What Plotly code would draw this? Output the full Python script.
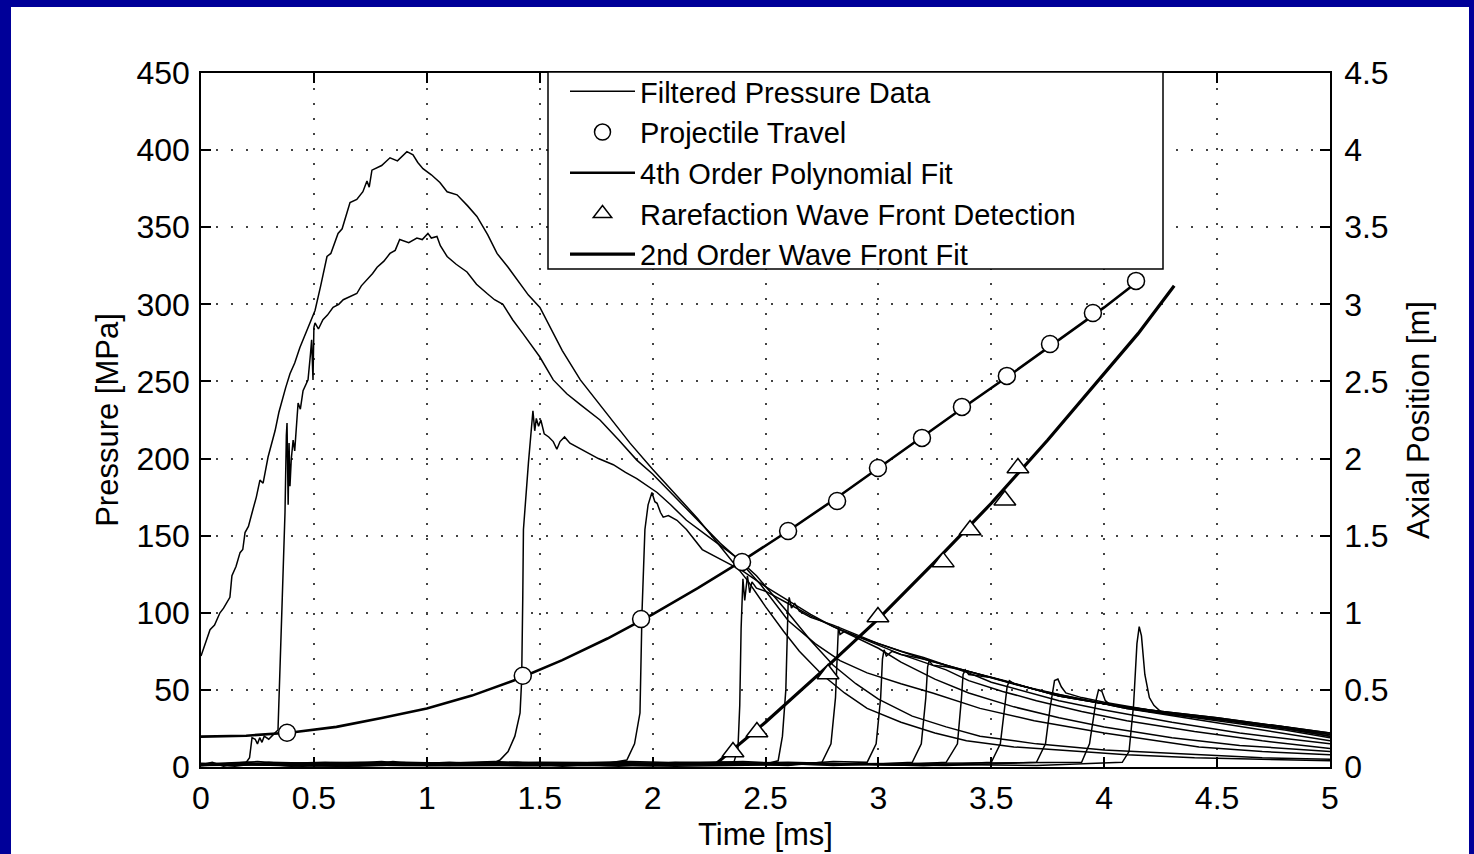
import plotly.graph_objects as go

# ---------------- data ----------------
# Filtered pressure traces [time ms], [pressure MPa]
a_t = [0, 0.02, 0.04, 0.06, 0.084, 0.10, 0.128, 0.137, 0.155, 0.173, 0.185, 0.195, 0.21, 0.23, 0.245, 0.261, 0.275, 0.297, 0.31, 0.328, 0.345, 0.359, 0.375, 0.394, 0.415, 0.438, 0.47, 0.505, 0.53, 0.558, 0.575, 0.607, 0.625, 0.66, 0.69, 0.717, 0.735, 0.745, 0.757, 0.8, 0.837, 0.87, 0.912, 0.939, 0.96, 0.983, 1.02, 1.058, 1.09, 1.134, 1.18, 1.222, 1.27, 1.311, 1.36, 1.4, 1.45, 1.501, 1.55, 1.6, 1.68, 1.75, 1.82, 1.9, 2.0, 2.1, 2.2, 2.3, 2.356, 2.42, 2.5, 2.58, 2.65, 2.75, 2.85, 2.95, 3.1, 3.25, 3.39, 3.6, 3.8, 4.1, 4.4, 4.7, 5.0]
a_p = [72, 80, 89, 92, 100, 103, 110, 124, 130, 139, 141, 152, 156, 167, 175, 186, 184, 201, 208, 218, 230, 238, 246, 255, 262, 272, 284, 296, 312, 331, 333, 346, 349, 366, 368, 373, 380, 376, 387, 390, 395, 393, 399, 397, 392, 388, 384, 379, 373, 371, 364, 357, 345, 333, 324, 316, 306, 298, 284, 270, 251, 238, 225, 210, 193, 177, 161, 143, 133, 121, 104, 88, 75, 60, 48, 38, 29, 22, 17, 13, 11, 8, 6, 5, 4]

b_t = [0, 0.05, 0.1, 0.15, 0.186, 0.2, 0.215, 0.226, 0.24, 0.25, 0.26, 0.27, 0.28, 0.30, 0.32, 0.341, 0.36, 0.372, 0.378, 0.381, 0.386, 0.39, 0.394, 0.40, 0.408, 0.415, 0.43, 0.44, 0.452, 0.474, 0.485, 0.49, 0.496, 0.50, 0.505, 0.52, 0.54, 0.56, 0.585, 0.61, 0.63, 0.66, 0.69, 0.71, 0.735, 0.76, 0.78, 0.81, 0.837, 0.86, 0.88, 0.92, 0.956, 0.98, 1.005, 1.02, 1.045, 1.06, 1.09, 1.13, 1.178, 1.22, 1.267, 1.3, 1.337, 1.38, 1.426, 1.46, 1.50, 1.56, 1.62, 1.68, 1.767, 1.85, 1.93, 2.0, 2.1, 2.2, 2.3, 2.4, 2.46, 2.53, 2.6, 2.7, 2.8, 2.9, 3.0, 3.15, 3.3, 3.45, 3.7, 4.0, 4.4, 4.7, 5.0]
b_p = [1.5, 3, 0.5, 2.5, 1.5, 3, 6, 19, 18, 15, 19, 16, 20, 18, 21, 24, 110, 165, 215, 223, 170, 210, 182, 200, 212, 205, 236, 232, 244, 251, 268, 277, 251, 285, 288, 284, 290, 293, 298, 300, 303, 305, 307, 312, 316, 320, 324, 328, 333, 335, 342, 340, 343, 342, 346, 343, 344, 338, 331, 326, 321, 313, 307, 303, 300, 290, 281, 274, 266, 251, 242, 235, 225, 212, 199, 190, 175, 160, 145, 132, 124, 112, 100, 82, 66, 54, 44, 33, 26, 20, 15, 11, 8, 6, 5]

c_t = [0, 0.15, 0.3, 0.5, 0.7, 0.85, 1.0, 1.15, 1.3, 1.324, 1.36, 1.39, 1.413, 1.42, 1.425, 1.428, 1.45, 1.462, 1.47, 1.478, 1.485, 1.495, 1.505, 1.52, 1.54, 1.56, 1.576, 1.59, 1.61, 1.634, 1.66, 1.71, 1.76, 1.826, 1.88, 1.93, 2.02, 2.08, 2.15, 2.25, 2.37, 2.48, 2.6, 2.72, 2.83, 2.95, 3.1, 3.24, 3.45, 3.69, 4.0, 4.42, 4.7, 5.0]
c_p = [2, 0.5, 3, 2.5, 0.8, 3.5, 1.5, 2.5, 3, 4.5, 10, 20, 35, 56, 110, 154, 197, 220, 231, 218, 226, 221, 225, 216, 214, 211, 206, 211, 214, 210, 208, 204, 200, 196, 191, 187, 178, 170, 160, 149, 136, 118, 95, 80, 69, 61, 54, 48, 38, 30, 22, 13, 10, 8]

d_t = [0, 0.2, 0.4, 0.6, 0.8, 1.0, 1.2, 1.4, 1.6, 1.8, 1.886, 1.92, 1.944, 1.953, 1.966, 1.98, 1.997, 2.01, 2.02, 2.035, 2.047, 2.07, 2.108, 2.15, 2.22, 2.31, 2.4, 2.5, 2.6, 2.7, 2.8, 2.9, 3.0, 3.1, 3.25, 3.4, 3.6, 3.8, 4.0, 4.3, 4.6, 5.0]
d_p = [1, 3, 0.5, 2, 3.5, 1, 1.5, 3, 0.5, 2.5, 4.5, 15, 35, 100, 154, 170, 178, 172, 171, 165, 162, 163, 160, 154, 141, 134, 127, 117, 108, 99, 91, 84, 77, 68, 57, 48, 39, 32, 26, 19, 14, 10]

e_t = [0, 0.25, 0.5, 0.8, 1.1, 1.35, 1.6, 1.85, 2.1, 2.36, 2.378, 2.386, 2.392, 2.40, 2.408, 2.415, 2.42, 2.43, 2.44, 2.46, 2.5, 2.6, 2.7, 2.8, 2.9, 3.0, 3.1, 3.2, 3.3, 3.4, 3.55, 3.7, 3.9, 4.1, 4.4, 4.7, 5.0]
e_p = [2, 3.5, 0.8, 1, 3, 1.5, 2.5, 0.5, 3, 3, 12, 40, 90, 122, 108, 118, 124, 113, 120, 116, 114, 106, 98, 91, 85, 79, 73, 68, 63, 56, 49, 43, 36, 30, 23, 17, 12]

f_t = [0, 0.3, 0.65, 1.0, 1.3, 1.7, 2.0, 2.3, 2.5, 2.556, 2.575, 2.59, 2.597, 2.60, 2.605, 2.615, 2.63, 2.65, 2.7, 2.8, 2.9, 3.0, 3.1, 3.2, 3.3, 3.4, 3.5, 3.65, 3.8, 4.0, 4.3, 4.6, 5.0]
f_p = [1, 2.5, 0.5, 2, 3.5, 1.5, 1, 3, 2, 4, 20, 50, 90, 105, 110, 103, 106, 101, 97, 92, 86, 80, 75, 70, 66, 61, 55, 49, 43, 37, 29, 22, 15]

g_t = [0, 0.45, 0.9, 1.4, 1.9, 2.4, 2.6, 2.75, 2.79, 2.81, 2.818, 2.823, 2.83, 2.85, 2.9, 3.0, 3.1, 3.2, 3.3, 3.4, 3.56, 3.7, 3.9, 4.1, 4.4, 4.7, 5.0]
g_p = [2.5, 0.5, 3, 1.5, 3.5, 2, 1, 3, 15, 45, 80, 91, 86, 88, 85, 80, 75, 71, 66, 62, 56, 50, 44, 38, 31, 24, 17]

h_t = [0, 0.55, 1.05, 1.5, 2.1, 2.6, 2.8, 2.95, 2.99, 3.01, 3.018, 3.025, 3.035, 3.06, 3.1, 3.2, 3.3, 3.4, 3.5, 3.62, 3.8, 4.0, 4.2, 4.5, 4.8, 5.0]
h_p = [1, 3, 1.5, 2, 0.5, 1.5, 3.5, 3, 15, 45, 70, 76, 72, 75, 73, 70, 66, 62, 58, 53, 47, 41, 36, 30, 24, 19]

i_t = [0, 0.6, 1.2, 1.8, 2.4, 2.8, 3.0, 3.15, 3.19, 3.21, 3.218, 3.225, 3.24, 3.3, 3.4, 3.5, 3.6, 3.7, 3.8, 4.0, 4.2, 4.5, 4.8, 5.0]
i_p = [2, 0.5, 2.5, 1, 3.5, 1, 2, 3, 15, 45, 65, 69, 66, 65, 62, 58, 54, 50, 46, 41, 36, 31, 25, 20]

j_t = [0, 0.7, 1.4, 2.0, 2.7, 3.1, 3.3, 3.35, 3.368, 3.375, 3.385, 3.4, 3.5, 3.6, 3.7, 3.8, 4.0, 4.2, 4.5, 4.8, 5.0]
j_p = [1.5, 3, 0.8, 1, 2.5, 1.5, 3, 15, 45, 60, 63, 60, 58, 54, 50, 46, 41, 37, 31, 26, 21]

k_t = [0, 0.9, 1.8, 2.6, 3.2, 3.5, 3.54, 3.562, 3.57, 3.58, 3.6, 3.7, 3.8, 4.0, 4.2, 4.5, 4.8, 5.0]
k_p = [2, 1, 1.5, 3, 0.8, 3, 15, 40, 52, 56, 54, 50, 46, 41, 37, 32, 26, 22]

l_t = [0, 1.2, 2.5, 3.3, 3.7, 3.74, 3.76, 3.77, 3.78, 3.795, 3.81, 3.83, 3.9, 4.0, 4.2, 4.5, 4.8, 5.0]
l_p = [1, 2.5, 2, 1, 3, 15, 38, 48, 56, 57, 52, 48, 45, 42, 37, 32, 26, 22]

m_t = [0, 1.1, 2.2, 3.2, 3.9, 3.935, 3.955, 3.965, 3.975, 3.99, 4.005, 4.03, 4.1, 4.2, 4.5, 4.8, 5.0]
m_p = [2, 0.8, 1.5, 2.5, 3, 15, 35, 44, 50, 49, 43, 40, 38, 36, 31, 25, 21]

n_t = [0, 1.5, 3.0, 3.7, 4.08, 4.11, 4.13, 4.145, 4.155, 4.165, 4.18, 4.2, 4.22, 4.25, 4.3, 4.5, 4.8, 5.0]
n_p = [1.5, 3, 2, 1, 3, 10, 40, 80, 91, 85, 60, 45, 40, 36, 34, 31, 25, 20]

pressure_t = [a_t, b_t, c_t, d_t, e_t, f_t, g_t, h_t, i_t, j_t, k_t, l_t, m_t, n_t]
pressure_p = [a_p, b_p, c_p, d_p, e_p, f_p, g_p, h_p, i_p, j_p, k_p, l_p, m_p, n_p]

# Projectile travel [ms], [m]
travel_t = [0.381, 1.425, 1.949, 2.396, 2.60, 2.817, 2.998, 3.193, 3.37, 3.569, 3.76, 3.95, 4.141]
travel_x = [0.222, 0.592, 0.960, 1.329, 1.53, 1.725, 1.939, 2.134, 2.335, 2.536, 2.743, 2.944, 3.152]

# 4th order polynomial fit of projectile travel
poly_t = [0, 0.2, 0.4, 0.6, 0.8, 1.0, 1.2, 1.4, 1.6, 1.8, 2.0, 2.2, 2.4, 2.6, 2.8, 3.0, 3.2, 3.4, 3.6, 3.8, 4.0, 4.15]
poly_x = [0.197, 0.203, 0.224, 0.26, 0.318, 0.38, 0.463, 0.569, 0.693, 0.833, 0.99, 1.16, 1.34, 1.53, 1.73, 1.94, 2.145, 2.355, 2.56, 2.77, 2.98, 3.15]

# Rarefaction wave front detection [ms], [m]
wave_t = [2.356, 2.462, 2.777, 2.998, 3.287, 3.406, 3.56, 3.618]
wave_x = [0.097, 0.227, 0.603, 0.973, 1.33, 1.537, 1.73, 1.939]

# 2nd order wave front fit
wfit_t = [2.28, 2.5, 2.75, 3.0, 3.25, 3.5, 3.75, 4.0, 4.15, 4.31]
wfit_x = [0.02, 0.29, 0.62, 0.96, 1.33, 1.71, 2.12, 2.55, 2.81, 3.12]

x_ticks = [0, 0.5, 1, 1.5, 2, 2.5, 3, 3.5, 4, 4.5, 5]
p_ticks = [0, 50, 100, 150, 200, 250, 300, 350, 400, 450]
pos_ticks = [0, 0.5, 1, 1.5, 2, 2.5, 3, 3.5, 4, 4.5]

# ---------------- figure ----------------
FONT = "Liberation Sans, Arial, sans-serif"
W, H = 1474, 854
ML, MR, MT, MB = 201, 144, 73, 87
PW, PH = W - ML - MR, H - MT - MB


def px_x(p):
    return (p - ML) / PW


def px_y(p):
    return (H - MB - p) / PH


fig = go.Figure()

for k, (tt, pp) in enumerate(zip(pressure_t, pressure_p)):
    fig.add_trace(go.Scatter(
        x=tt, y=pp, mode="lines", yaxis="y",
        line=dict(color="black", width=1.5),
        name="Filtered Pressure Data", legendgroup="press",
        showlegend=(k == 0), legendrank=1))

fig.add_trace(go.Scatter(
    x=poly_t, y=poly_x, mode="lines", yaxis="y2",
    line=dict(color="black", width=2.6),
    name="4th Order Polynomial Fit", legendrank=3))
fig.add_trace(go.Scatter(
    x=wfit_t, y=wfit_x, mode="lines", yaxis="y2",
    line=dict(color="black", width=3.2),
    name="2nd Order Wave Front Fit", legendrank=5))
fig.add_trace(go.Scatter(
    x=travel_t, y=travel_x, mode="markers", yaxis="y2",
    marker=dict(symbol="circle", size=17, color="white",
                line=dict(color="black", width=1.5)),
    name="Projectile Travel", legendrank=2))
fig.add_trace(go.Scatter(
    x=wave_t, y=wave_x, mode="markers", yaxis="y2",
    marker=dict(symbol="triangle-up", size=19, color="white",
                line=dict(color="black", width=1.5)),
    name="Rarefaction Wave Front Detection", legendrank=4))

axis_common = dict(
    ticks="inside", ticklen=10, tickwidth=1.5, tickcolor="black",
    showline=True, linecolor="black", linewidth=1.5,
    zeroline=False, automargin=False,
    tickfont=dict(family=FONT, size=32, color="black"),
    title_font=dict(family=FONT, size=31, color="black"),
)

fig.update_layout(
    width=W, height=H,
    margin=dict(l=ML, r=MR, t=MT, b=MB, pad=0),
    paper_bgcolor="#000099",
    plot_bgcolor="white",
    font=dict(family=FONT, size=31, color="black"),
    xaxis=dict(range=[0, 5], tickvals=x_ticks, ticktext=[f"{v:g}" for v in x_ticks],
               mirror="ticks", showgrid=True, gridcolor="#444444",
               griddash="2px,13px", gridwidth=1.5,
               title=dict(text="Time [ms]", standoff=8),
               ticklabelstandoff=2, **axis_common),
    yaxis=dict(range=[0, 450], tickvals=p_ticks, ticktext=[str(v) for v in p_ticks],
               showgrid=True, gridcolor="#444444",
               griddash="2px,13px", gridwidth=1.5,
               title=dict(text="Pressure [MPa]", standoff=9),
               ticklabelstandoff=3, **axis_common),
    yaxis2=dict(range=[0, 4.5], tickvals=pos_ticks, ticktext=[f"{v:g}" for v in pos_ticks],
                overlaying="y", side="right", showgrid=False,
                title=dict(text="Axial Position [m]", standoff=20),
                ticklabelstandoff=6, **axis_common),
    legend=dict(x=px_x(565), y=px_y(66), xanchor="left", yanchor="top",
                bgcolor="rgba(0,0,0,0)", borderwidth=0,
                font=dict(family=FONT, size=29, color="black"),
                itemwidth=65, tracegroupgap=0),
    showlegend=True,
    shapes=[
        # white page inside the blue frame
        dict(type="rect", xref="paper", yref="paper",
             x0=px_x(11), x1=px_x(1469), y0=px_y(860), y1=px_y(7),
             fillcolor="white", line=dict(width=0), layer="below"),
        # legend box
        dict(type="rect", xref="paper", yref="paper",
             x0=px_x(548), x1=px_x(1163), y0=px_y(269), y1=px_y(72),
             fillcolor="white", line=dict(width=1.5, color="black"), layer="above"),
    ],
)

fig.write_html("out.html")
